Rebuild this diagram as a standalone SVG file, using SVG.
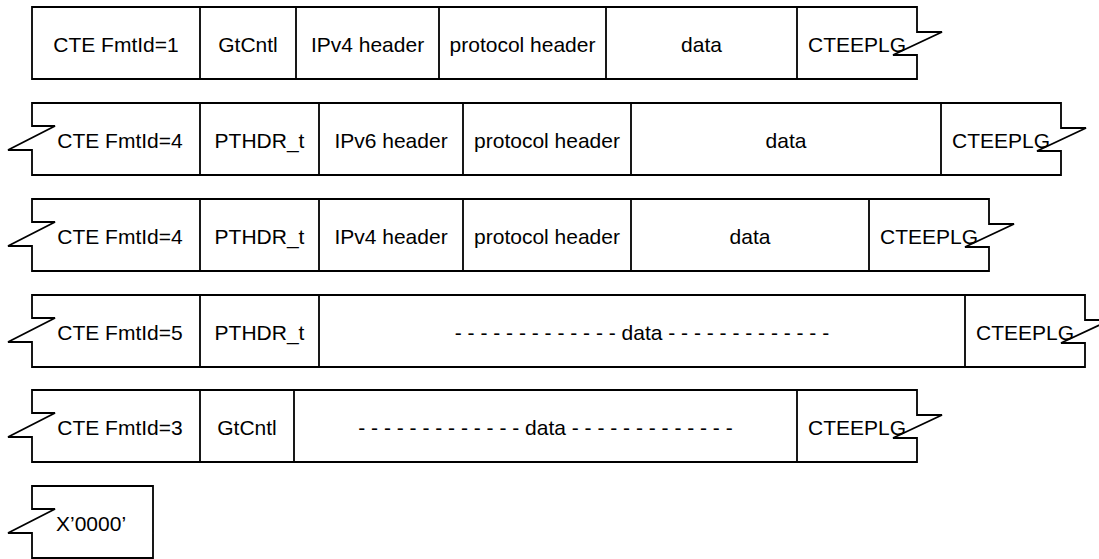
<svg xmlns="http://www.w3.org/2000/svg" width="1099" height="559" viewBox="0 0 1099 559">
<style>
.o{fill:#fff;stroke:#000;stroke-width:1.8;stroke-linejoin:miter}
.d{stroke:#000;stroke-width:1.8}
text{font-family:"Liberation Sans",Arial,sans-serif;font-size:21px;fill:#000;text-anchor:middle}
</style>
<rect width="1099" height="559" fill="#fff"/>
<g id="row1">
<path class="o" d="M32,7 H917 V32 L942,32 L893,55 H917 V79 H32 Z"/>
<path class="d" d="M200,7V79M296,7V79M439,7V79M606,7V79M797,7V79"/>
<text x="116" y="52">CTE FmtId=1</text>
<text x="248" y="52">GtCntl</text>
<text x="367.5" y="52">IPv4 header</text>
<text x="522.5" y="52">protocol header</text>
<text x="701.5" y="52">data</text>
<text x="857" y="52">CTEEPLG</text>
</g>
<g id="row2">
<path class="o" d="M32,103 H1061 V128 L1086,128 L1037,151 H1061 V175 H32 V150 H8 L55,126 H32 Z"/>
<path class="d" d="M200,103V175M319,103V175M463,103V175M631,103V175M941,103V175"/>
<text x="120" y="148">CTE FmtId=4</text>
<text x="259.5" y="148">PTHDR_t</text>
<text x="391" y="148">IPv6 header</text>
<text x="547" y="148">protocol header</text>
<text x="786" y="148">data</text>
<text x="1001" y="148">CTEEPLG</text>
</g>
<g id="row3">
<path class="o" d="M32,199 H989 V224 L1014,224 L965,247 H989 V271 H32 V246 H8 L55,222 H32 Z"/>
<path class="d" d="M200,199V271M319,199V271M463,199V271M631,199V271M869,199V271"/>
<text x="120" y="244">CTE FmtId=4</text>
<text x="259.5" y="244">PTHDR_t</text>
<text x="391" y="244">IPv4 header</text>
<text x="547" y="244">protocol header</text>
<text x="750" y="244">data</text>
<text x="929" y="244">CTEEPLG</text>
</g>
<g id="row4">
<path class="o" d="M32,295 H1085 V320 L1110,320 L1061,343 H1085 V367 H32 V342 H8 L55,318 H32 Z"/>
<path class="d" d="M200,295V367M319,295V367M965,295V367"/>
<text x="120" y="340">CTE FmtId=5</text>
<text x="259.5" y="340">PTHDR_t</text>
<text x="642" y="340">- - - - - - - - - - - - - data - - - - - - - - - - - - -</text>
<text x="1025" y="340">CTEEPLG</text>
</g>
<g id="row5">
<path class="o" d="M32,390 H917 V415 L942,415 L893,438 H917 V462 H32 V437 H8 L55,413 H32 Z"/>
<path class="d" d="M200,390V462M294,390V462M797,390V462"/>
<text x="120" y="435">CTE FmtId=3</text>
<text x="247" y="435">GtCntl</text>
<text x="545.5" y="435">- - - - - - - - - - - - - data - - - - - - - - - - - - -</text>
<text x="857" y="435">CTEEPLG</text>
</g>
<g id="row6">
<path class="o" d="M32,486 H153 V558 H32 V533 H8 L55,509 H32 Z"/>
<text x="56" y="531" style="text-anchor:start">X’0000’</text>
</g>
</svg>
